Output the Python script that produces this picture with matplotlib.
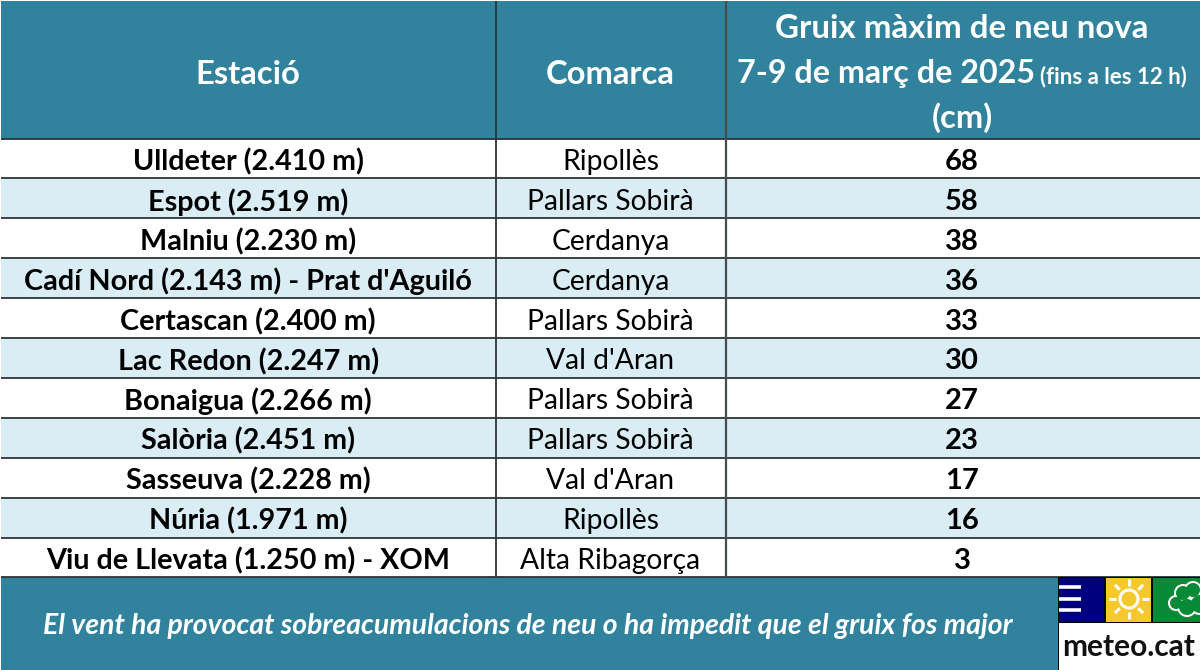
import matplotlib
matplotlib.use('Agg')
import matplotlib.pyplot as plt
from matplotlib.patches import Rectangle, Circle
import numpy as np

estacions = ['Ulldeter (2.410 m)', 'Espot (2.519 m)', 'Malniu (2.230 m)',
             "Cadí Nord (2.143 m) - Prat d'Aguiló", 'Certascan (2.400 m)',
             'Lac Redon (2.247 m)', 'Bonaigua (2.266 m)', 'Salòria (2.451 m)',
             'Sasseuva (2.228 m)', 'Núria (1.971 m)', 'Viu de Llevata (1.250 m) - XOM']
comarques = ['Ripollès', 'Pallars Sobirà', 'Cerdanya', 'Cerdanya', 'Pallars Sobirà',
             "Val d'Aran", 'Pallars Sobirà', 'Pallars Sobirà', "Val d'Aran",
             'Ripollès', 'Alta Ribagorça']
gruix = [68, 58, 38, 36, 33, 30, 27, 23, 17, 16, 3]

teal = '#31839d'
stripe = '#daedf4'
line = '#2b3438'

plt.rcParams['font.family'] = ['Lato', 'DejaVu Sans']

fig = plt.figure(figsize=(12, 6.7), dpi=100)
ax = fig.add_axes([0, 0, 1, 1])
ax.set_xlim(0, 1200)
ax.set_ylim(670, 0)
ax.axis('off')

left, right = 1, 1200
col1, col2 = 495.5, 725.5
top_rows = 138.5
row_h = 39.9
n = len(estacions)
bottom_rows = top_rows + n * row_h

# header and footer bands
ax.add_patch(Rectangle((left, 1), right - left, top_rows - 1, fc=teal, ec='none'))
ax.add_patch(Rectangle((left, bottom_rows), right - left, 670 - bottom_rows, fc=teal, ec='none'))

for i in range(n):
    y = top_rows + i * row_h
    if i % 2 == 1:
        # stripes leave a thin white gap next to the cell borders
        ax.add_patch(Rectangle((left, y + 1), col1 - left - 1, row_h - 2, fc=stripe, ec='none'))
        ax.add_patch(Rectangle((col1 + 1, y + 1), col2 - col1 - 2, row_h - 2, fc=stripe, ec='none'))
        ax.add_patch(Rectangle((col2 + 1, y + 1), right - col2 - 1, row_h - 2, fc=stripe, ec='none'))
    mid = y + row_h / 2 + 3.5
    ax.text((left + col1) / 2, mid, estacions[i], ha='center', va='center',
            fontsize=20.7, fontweight='bold', color='black')
    ax.text((col1 + col2) / 2, mid, comarques[i], ha='center', va='center',
            fontsize=20.3, color='black')
    ax.text(962, mid, str(gruix[i]), ha='center', va='center',
            fontsize=21, fontweight='bold', color='black')

for i in range(n + 1):
    y = top_rows + i * row_h
    ax.plot([left, right], [y, y], color=line, lw=1.3, solid_capstyle='butt')
ax.plot([col1, col1], [1, bottom_rows], color=line, lw=1.3, solid_capstyle='butt')
ax.plot([col2, col2], [1, bottom_rows], color='#444c50', lw=1.6, solid_capstyle='butt')

# header text
ax.text(248, 74, 'Estació', ha='center', va='center', fontsize=23.6, fontweight='bold', color='white')
ax.text(610, 74, 'Comarca', ha='center', va='center', fontsize=23.6, fontweight='bold', color='white')
ax.text(962, 28, 'Gruix màxim de neu nova', ha='center', va='center', fontsize=23.8,
        fontweight='bold', color='white')
ax.text(737, 74, '7-9 de març de 2025', ha='left', va='center', fontsize=23.2,
        fontweight='bold', color='white')
ax.text(1187, 77, '(fins a les 12 h)', ha='right', va='center', fontsize=16,
        fontweight='bold', color='white')
ax.text(962, 118, '(cm)', ha='center', va='center', fontsize=23.6, fontweight='bold', color='white')

# footer
ax.text(528, 626, 'El vent ha provocat sobreacumulacions de neu o ha impedit que el gruix fos major',
        ha='center', va='center', fontsize=20.4, fontweight='bold', fontstyle='italic', color='white')

# logo
ax.add_patch(Rectangle((1058, 577), 142, 93, fc='black', ec='none', zorder=3))
ax.add_patch(Rectangle((1059, 623), 141, 47, fc='white', ec='none', zorder=3))
ax.add_patch(Rectangle((1059, 578), 45, 44, fc='#00007f', ec='none', zorder=3))
ax.add_patch(Rectangle((1106, 578), 45, 44, fc='#f5c92c', ec='none', zorder=3))
green = ax.add_patch(Rectangle((1153, 578), 47, 44, fc='#078a35', ec='none', zorder=3))
for y in (587, 599, 610):
    ax.plot([1059, 1081], [y, y], color='white', lw=2.6, solid_capstyle='butt', zorder=4)
# sun
cx, cy = 1129, 599
ax.add_patch(Circle((cx, cy), 9, fc='none', ec='white', lw=2.2, zorder=4))
for a in np.arange(0, 360, 45):
    ca, sa = np.cos(np.radians(a)), np.sin(np.radians(a))
    ax.plot([cx + 13 * ca, cx + 20 * ca], [cy + 13 * sa, cy + 20 * sa], color='white',
            lw=2.2, solid_capstyle='butt', zorder=4)
# cloud, outline made from overlapping circles
lobes = [(1183, 593, 8), (1193, 590, 8), (1176, 603, 7), (1187, 607, 9), (1200, 604, 10)]
for x, y, r in lobes:
    c = Circle((x, y), r + 1, fc='white', ec='none', zorder=4)
    ax.add_patch(c)
    c.set_clip_path(green)
for x, y, r in lobes:
    c = Circle((x, y), r - 1, fc='#078a35', ec='none', zorder=5)
    ax.add_patch(c)
    c.set_clip_path(green)
ax.text(1129, 647, 'meteo.cat', ha='center', va='center', fontsize=21.5, fontweight='bold',
        color='#111111', zorder=5)

fig.savefig('out.png', dpi=100)
